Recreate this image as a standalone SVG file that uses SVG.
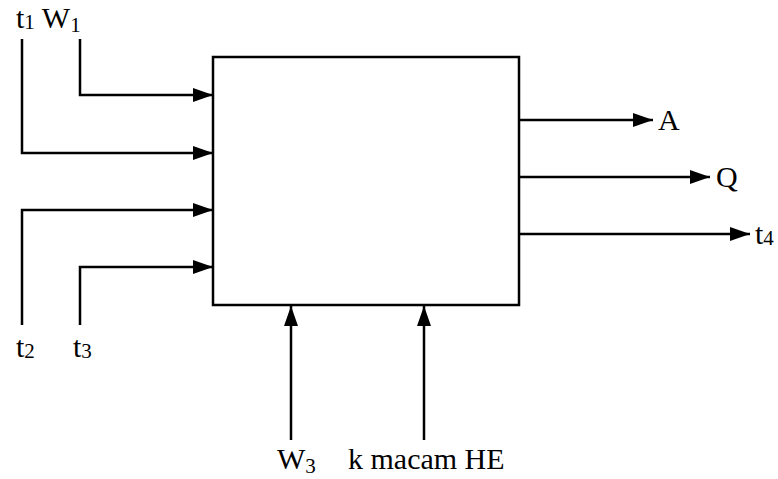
<svg xmlns="http://www.w3.org/2000/svg" width="778" height="479" viewBox="0 0 778 479">
<style>
.l{fill:none;stroke:#000;stroke-width:2.5}
.t{font-family:"Liberation Serif",serif;font-size:30px;fill:#000}
.s{font-size:21px}
</style>
<defs>
<marker id="ah" viewBox="0 0 20 14" refX="20" refY="7" markerWidth="20" markerHeight="14" markerUnits="userSpaceOnUse" orient="auto">
<path d="M0,0 L20,7 L0,14 Z" fill="#000"/>
</marker>
</defs>
<rect width="778" height="479" fill="#fff"/>
<g id="process">
<rect x="213" y="57" width="306" height="248" fill="none" stroke="#000" stroke-width="2.5"/>
</g>
<g id="connectors">
<path class="l" d="M80,39 V95 H213" marker-end="url(#ah)"/>
<path class="l" d="M22,39 V153 H213" marker-end="url(#ah)"/>
<path class="l" d="M22,325 V210 H213" marker-end="url(#ah)"/>
<path class="l" d="M80,325 V267 H213" marker-end="url(#ah)"/>
<path class="l" d="M519,120 H653" marker-end="url(#ah)"/>
<path class="l" d="M519,177 H710" marker-end="url(#ah)"/>
<path class="l" d="M519,234 H750" marker-end="url(#ah)"/>
<path class="l" d="M291,440 V306" marker-end="url(#ah)"/>
<path class="l" d="M424,440 V306" marker-end="url(#ah)"/>
</g>
<g id="labels">
<text class="t" x="16" y="28">t<tspan class="s" dy="1">1</tspan><tspan dy="-1"> W</tspan><tspan class="s" dy="4">1</tspan></text>
<text class="t" x="16" y="357">t<tspan class="s" dy="1">2</tspan></text>
<text class="t" x="73" y="357">t<tspan class="s" dy="1">3</tspan></text>
<text class="t" x="658" y="130">A</text>
<text class="t" x="716" y="187">Q</text>
<text class="t" x="755" y="244">t<tspan class="s" dy="1">4</tspan></text>
<text class="t" x="277" y="469">W<tspan class="s" dy="4">3</tspan></text>
<text class="t" x="348" y="469">k macam HE</text>
</g>
</svg>
